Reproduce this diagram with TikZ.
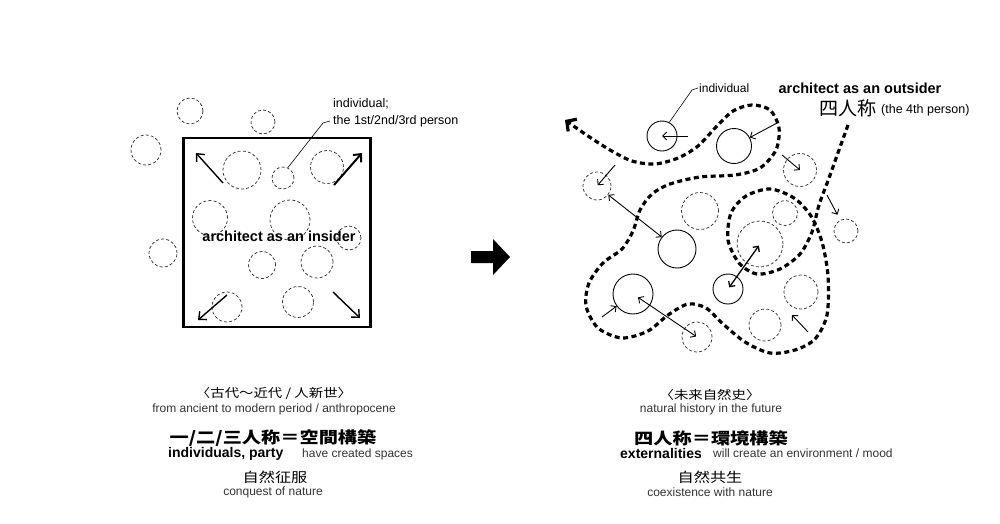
\documentclass[tikz,border=0pt]{standalone}
\usepackage{fontspec}
\setmainfont{Liberation Sans}
\newfontfamily\cjk{Noto Sans CJK JP}
\newfontfamily\cjkw[FakeStretch=1.2]{Noto Sans CJK JP}
\usetikzlibrary{arrows.meta,positioning}

\begin{document}
\begin{tikzpicture}[x=1pt, y=-1pt,
  dc/.style={circle, draw=black!80, line width=0.75pt, dash pattern=on 3pt off 2.2pt, inner sep=0pt},
  sc/.style={circle, draw, line width=0.9pt, inner sep=0pt},
  frame/.style={draw, line width=2.6pt, inner sep=0pt},
  arr/.style={-{Straight Barb[length=4pt,width=8pt]}, line width=0.9pt},
  darr/.style={{Straight Barb[length=4pt,width=8pt]}-{Straight Barb[length=4pt,width=8pt]}, line width=0.9pt},
  outarr/.style={-{Straight Barb[length=6pt,width=11pt]}, line width=1.4pt},
  flow/.style={line width=3.2pt, dash pattern=on 5pt off 3.5pt, -{Straight Barb[length=7pt,width=15pt]}},
  lead/.style={line width=0.6pt},
  lbl/.style={font=\fontsize{12}{14}\selectfont, inner sep=1pt},
  head/.style={font=\fontsize{14.5}{17}\selectfont\bfseries, inner sep=0pt},
  sub/.style={font=\fontsize{12}{14}\selectfont, text=black!80, inner sep=0pt},
  key/.style={font=\fontsize{14}{16}\selectfont\bfseries, inner sep=0pt},
  jp/.style={font=\cjkw\fontsize{#1}{#1}\selectfont, inner sep=0pt},
  jpb/.style={font=\cjkw\bfseries\fontsize{#1}{#1}\selectfont, inner sep=0pt}
]
\useasboundingbox (0,0) rectangle (1000,523);

% Left: architect as an insider
\node[frame, minimum width=187pt, minimum height=189pt] (frame) at (277,232.5) {};
\node[dc, minimum size=26pt] (l1) at (190,111) {};
\node[dc, minimum size=24pt] (l2) at (263,122) {};
\node[dc, minimum size=30pt] (l3) at (146,150) {};
\node[dc, minimum size=38pt] (l4) at (242,170) {};
\node[dc, minimum size=22pt] (l5) at (283,178) {};
\node[dc, minimum size=33pt] (l6) at (327,167) {};
\node[dc, minimum size=35pt] (l7) at (210,218) {};
\node[dc, minimum size=40pt] (l8) at (290,220) {};
\node[dc, minimum size=24pt] (l9) at (349,238) {};
\node[dc, minimum size=28pt] (l10) at (163,253) {};
\node[dc, minimum size=27pt] (l11) at (262,265) {};
\node[dc, minimum size=32pt] (l12) at (317,262) {};
\node[dc, minimum size=30pt] (l13) at (227,307) {};
\node[dc, minimum size=31pt] (l14) at (298,302) {};
\node[head] (inside) at (279,236) {architect as an insider};

\coordinate (ul0) at (223,183); \coordinate (ul1) at (196,153);
\coordinate (ur0) at (334,185); \coordinate (ur1) at (362,153);
\coordinate (ll0) at (227,295); \coordinate (ll1) at (198,320);
\coordinate (lr0) at (333,292); \coordinate (lr1) at (360,318);
\draw[outarr] (ul0) -- (ul1);
\draw[outarr, line width=2pt] (ur0) -- (ur1);
\draw[outarr] (ll0) -- (ll1);
\draw[outarr] (lr0) -- (lr1);

\node[anchor=west, align=left, inner sep=1pt, font=\fontsize{12.5}{16.5}\selectfont] (who1) at (332,113) {individual;\\the 1st/2nd/3rd person};
\coordinate (lk1) at (323,123); \coordinate (lk2) at (330,121);
\draw[lead] (l5.65) -- (lk1) -- (lk2);

% middle arrow
\fill (471,251) -- (493,251) -- (493,239) -- (510,257) -- (493,275) -- (493,263) -- (471,263) -- cycle;

% Right: architect as an outsider
\node[sc, minimum size=30pt] (r1) at (662,136) {};
\node[sc, minimum size=35pt] (r2) at (734,146) {};
\node[sc, minimum size=38pt] (r3) at (677,249) {};
\node[sc, minimum size=40pt] (r4) at (633,294) {};
\node[sc, minimum size=30pt] (r5) at (728,289) {};
\node[dc, minimum size=28pt] (d1) at (597,186) {};
\node[dc, minimum size=37pt] (d2) at (700,211) {};
\node[dc, minimum size=33pt] (d3) at (800,170) {};
\node[dc, minimum size=25pt] (d4) at (785,213) {};
\node[dc, minimum size=46pt] (d5) at (760,244) {};
\node[dc, minimum size=24pt] (d6) at (846,231) {};
\node[dc, minimum size=34pt] (d7) at (801,292) {};
\node[dc, minimum size=32pt] (d8) at (765,325) {};
\node[dc, minimum size=30pt] (d9) at (697,337) {};

\draw[flow] plot[smooth] coordinates {(848,125) (839,150) (829,178) (819,205) (812,232) (800,254)
  (780,269) (757,274) (739,263) (728,240) (731,213) (746,196) (770,189) (794,198) (811,216)
  (822,242) (828,276) (827,315) (815,339) (795,350) (770,353) (745,342) (722,323) (706,308)
  (688,304) (668,315) (648,331) (622,338) (598,328) (586,306) (589,283) (603,263) (622,249)
  (633,231) (640,210) (652,194) (670,184) (700,177) (735,175) (760,168) (776,150) (779,128)
  (770,110) (752,105) (733,111) (716,127) (698,146) (678,158) (655,164) (632,161) (610,150)
  (588,136) (565,120)};

\coordinate (t1) at (688,136);
\coordinate (t2) at (777,123);
\coordinate (t3) at (615,165);
\coordinate (t4) at (602,317);
\coordinate (t5) at (782,155);
\coordinate (t6) at (827,195);
\coordinate (t7) at (808,332); \coordinate (t8) at (792,315);
\draw[arr] (t1) -- (r1.center);
\draw[arr] (t2) -- (r2);
\draw[arr, shorten >=1pt] (t3) -- (d1.center);
\draw[darr] (d1) -- (r3);
\draw[darr, shorten <=6pt, shorten >=1pt] (r4.center) -- (d9.center);
\draw[arr] (t4) -- (r4);
\draw[darr, line width=1.3pt, shorten <=2pt, shorten >=2pt] (r5.center) -- (d5.center);
\draw[arr] (t5) -- (d3.center);
\draw[arr, shorten >=6pt] (t6) -- (d6);
\draw[arr] (t7) -- (t8);

\node[lbl, anchor=west] (who2) at (698,88) {individual};
\coordinate (rk1) at (692,90);
\draw[lead] (r1.62) -- (rk1) -- (who2.west);
\node[head] (outside) at (860,88) {architect as an outsider};
\node[anchor=west, inner sep=0pt, font=\cjk\fontsize{19}{19}\selectfont] (fourth) at (819,108) {四人称};
\node[anchor=west, inner sep=0pt, font=\fontsize{12.5}{14}\selectfont] (fourthen) at (881,110) {(the 4th person)};

% captions, left
\node[jp=12] (cl1) at (274,393) {〈古代〜近代 / 人新世〉};
\node[sub] (cl2) at (274,409) {from ancient to modern period / anthropocene};
\node[jpb=16] (cl3) at (273,438) {一/二/三人称＝空間構築};
\node[key, anchor=west] (cl4) at (168,454) {individuals, party};
\node[sub, anchor=west] (cl4b) at (302,454) {have created spaces};
\node[jp=13.5] (cl5) at (275,477) {自然征服};
\node[sub] (cl6) at (273,492) {conquest of nature};

% captions, right
\node[jp=12] (cr1) at (710,395) {〈未来自然史〉};
\node[sub] (cr2) at (711,409) {natural history in the future};
\node[jpb=16] (cr3) at (711,438) {四人称＝環境構築};
\node[key, anchor=west] (cr4) at (620,453) {externalities};
\node[sub, anchor=west] (cr4b) at (713,453) {will create an environment / mood};
\node[jp=13.5] (cr5) at (710,477) {自然共生};
\node[sub] (cr6) at (710,492) {coexistence with nature};
\end{tikzpicture}
\end{document}
